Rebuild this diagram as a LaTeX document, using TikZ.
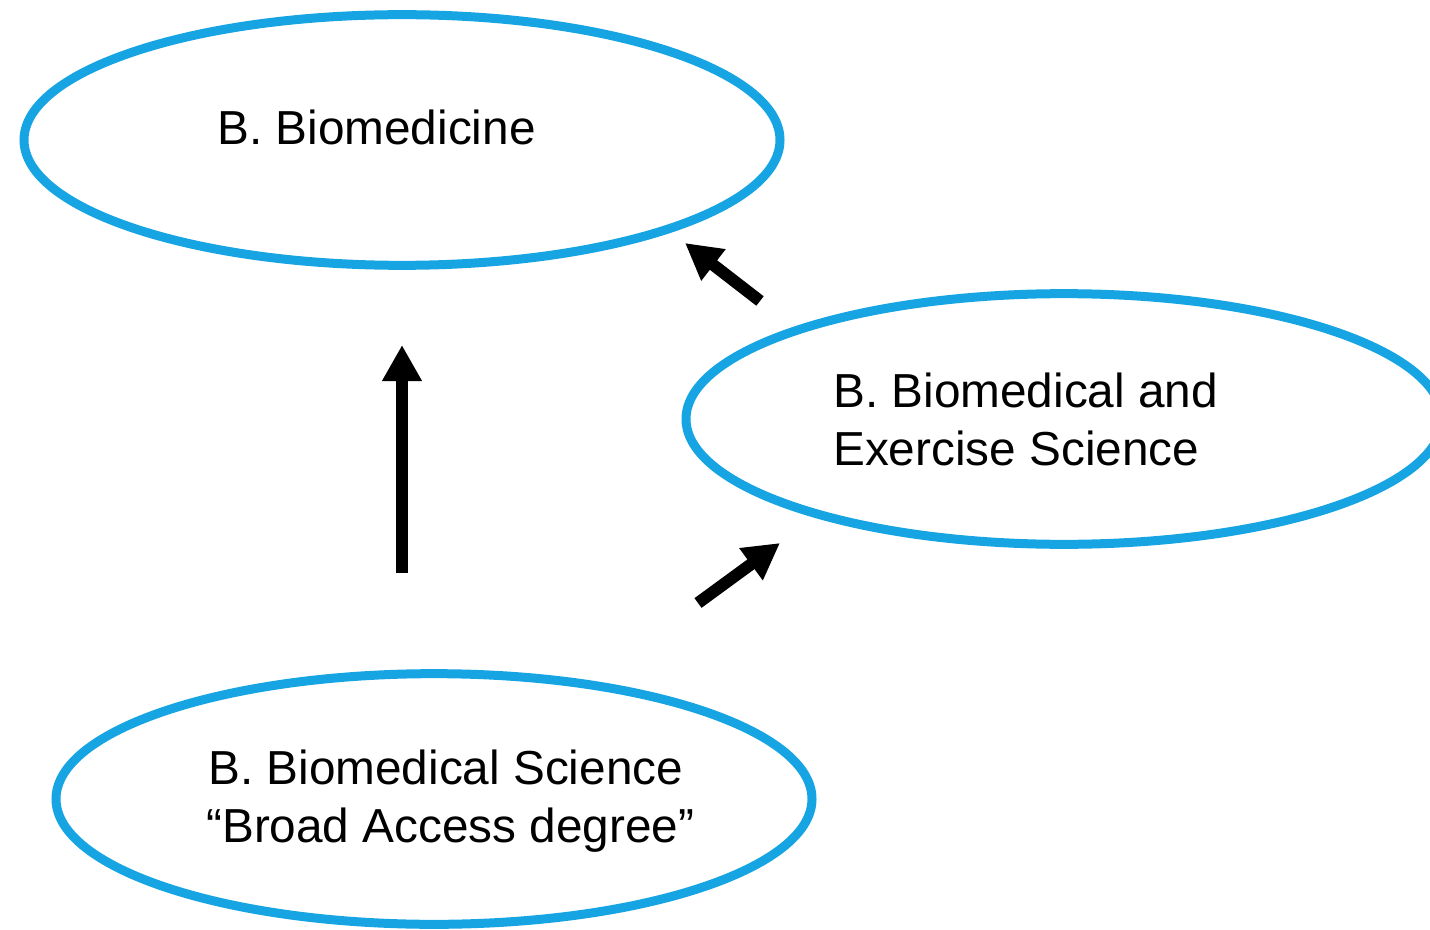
\documentclass[tikz,border=0pt]{standalone}
\usepackage{fontspec}
\setmainfont{Liberation Sans}
\usetikzlibrary{shapes.geometric,arrows.meta}
\definecolor{ringblue}{RGB}{22,164,227}
\tikzset{
  ring/.style={draw=ringblue, line width=6.75pt, ellipse, minimum width=567pt, minimum height=188pt, inner sep=0pt},
  label/.style={anchor=base west, inner sep=0pt, font=\fontsize{35.8}{43.5}\selectfont},
  bigarrow/.style={line width=9pt, -{Triangle[length=27pt,width=28pt]}}
}
\begin{document}
\begin{tikzpicture}[x=0.75pt,y=-0.75pt]
\useasboundingbox (0,0) rectangle (1430,930);
\node[ring] (bm) at (402,140) {};
\node[ring] (bes) at (1064,419) {};
\node[ring] (bms) at (434,799) {};
\node[label] (t1) at (217,145) {B. Biomedicine};
\node[label] (t2a) at (833,407) {B. Biomedical and};
\node[label] (t2b) at (833,465) {Exercise Science};
\node[label] (t3a) at (208,784) {B. Biomedical Science};
\node[label] (t3b) at (206,842) {“Broad Access degree”};
\coordinate (v0) at (402,573);
\coordinate (v1) at (402,345);
\coordinate (u0) at (760,301);
\coordinate (u1) at (685,243);
\coordinate (l0) at (698,603);
\coordinate (l1) at (780,543);
\draw[bigarrow] (v0) -- (v1);
\draw[bigarrow] (u0) -- (u1);
\draw[bigarrow] (l0) -- (l1);
\end{tikzpicture}
\end{document}
